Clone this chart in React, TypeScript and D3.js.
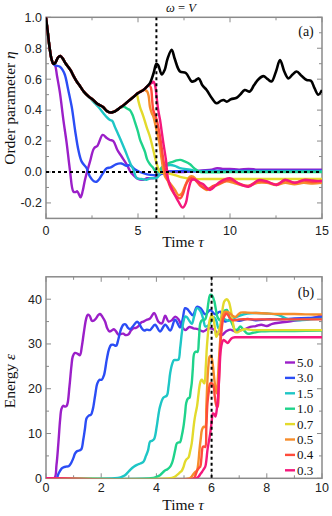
import { useEffect, useRef } from 'react'
import * as d3 from 'd3'

type Pt = [number, number]

const labels = ['5.0', '3.0', '1.5', '1.0', '0.7', '0.5', '0.4', '0.3']
const colors = ['#9b1fc8', '#2b4df5', '#1ec6c6', '#1fd38b', '#e3da2c', '#f68d2b', '#ff4b3b', '#f4187c']

// black curve in (a); the coloured ones ride on it until they peel off
const etaRef: Pt[] = [
  [0, 1.0], [0.1, 0.9], [0.2, 0.8], [0.3, 0.73], [0.4, 0.7], [0.5, 0.705], [0.65, 0.74], [0.78, 0.75],
  [0.9, 0.735], [1.05, 0.705], [1.2, 0.68], [1.35, 0.655], [1.5, 0.62], [1.67, 0.585], [1.85, 0.555],
  [2.05, 0.52], [2.3, 0.49], [2.57, 0.465], [2.8, 0.44], [3.1, 0.42], [3.3, 0.395], [3.5, 0.385],
  [3.7, 0.39], [3.85, 0.4], [4.02, 0.415], [4.3, 0.44], [4.55, 0.465], [4.8, 0.49], [5.0, 0.51],
  [5.29, 0.53], [5.47, 0.55], [5.65, 0.575], [5.85, 0.64], [6.0, 0.7], [6.1, 0.69], [6.29, 0.63],
  [6.45, 0.66], [6.6, 0.73], [6.83, 0.79], [7.0, 0.73], [7.28, 0.65], [7.6, 0.64], [7.92, 0.585],
  [8.1, 0.59], [8.3, 0.605], [8.5, 0.56], [8.73, 0.53], [9.0, 0.48], [9.27, 0.444], [9.5, 0.46],
  [9.65, 0.465], [9.82, 0.455], [10.05, 0.47], [10.36, 0.48], [10.55, 0.5], [10.8, 0.53], [11.08, 0.52],
  [11.3, 0.56], [11.55, 0.6], [11.81, 0.62], [12.05, 0.6], [12.26, 0.585], [12.5, 0.65], [12.72, 0.724],
  [12.95, 0.65], [13.17, 0.605], [13.4, 0.63], [13.62, 0.65], [13.9, 0.62], [14.17, 0.595], [14.4, 0.59],
  [14.6, 0.54], [14.8, 0.5], [15, 0.53],
]
const departAt = [0.4, 0.4, 2.3, 4.02, 4.8, 5.29, 5.47, 5.47]

const eta50: Pt[] = [
  [0.49, 0.69], [0.6, 0.62], [0.76, 0.51], [0.94, 0.34], [1.12, 0.19], [1.3, 0.013], [1.49, -0.127],
  [1.6, -0.13], [1.7, -0.125], [1.88, -0.164], [2.0, -0.12], [2.12, -0.05], [2.39, 0.067], [2.61, 0.153],
  [2.8, 0.17], [3.08, 0.24], [3.3, 0.22], [3.48, 0.207], [3.66, 0.2], [3.88, 0.142], [4.11, 0.1],
  [4.38, 0.05], [4.6, 0.0], [4.75, -0.02], [5.0, -0.045], [5.29, -0.05], [5.5, -0.04], [5.83, -0.04],
  [6.0, -0.03], [6.3, -0.01], [6.6, 0.005], [7.0, 0.0], [7.5, 0.0], [8.0, 0.005], [8.5, 0.01], [9.0, 0.015],
  [9.3, 0.025], [9.6, 0.02], [10, 0.02], [10.5, 0.015], [11, 0.02], [11.5, 0.015], [12, 0.015],
  [13, 0.015], [14, 0.015], [15, 0.015],
]
const eta30: Pt[] = [
  [0.49, 0.69], [0.76, 0.68], [0.9, 0.66], [1.03, 0.627], [1.21, 0.53], [1.4, 0.42], [1.58, 0.27],
  [1.76, 0.142], [1.94, 0.067], [2.21, 0.024], [2.39, -0.03], [2.6, -0.06], [2.75, -0.063], [2.9, -0.045],
  [3.03, -0.02], [3.3, 0.024], [3.52, 0.03], [3.8, 0.05], [4.1, 0.055], [4.38, 0.04], [4.56, 0.045],
  [4.8, 0.02], [5.1, 0.0], [5.5, -0.015], [5.83, -0.02], [6.2, -0.015], [6.6, 0.0], [7, 0.005], [8, 0.005],
  [9, 0.008], [10, 0.008], [12, 0.008], [15, 0.008],
]
const eta15: Pt[] = [
  [2.57, 0.455], [2.85, 0.42], [3.12, 0.38], [3.3, 0.355], [3.48, 0.336], [3.6, 0.33], [3.75, 0.29],
  [3.9, 0.25], [4.02, 0.218], [4.29, 0.142], [4.47, 0.088], [4.6, 0.05], [4.75, 0.015], [4.93, -0.04],
  [5.2, -0.045], [5.47, -0.05], [5.7, -0.04], [6.0, -0.04], [6.2, -0.01], [6.38, 0.035], [6.74, 0.045],
  [7.0, 0.04], [7.28, 0.025], [7.83, 0.015], [8.3, 0.005], [9, 0.003], [10, 0.003], [15, 0.003],
]
const eta10: Pt[] = [
  [4.15, 0.42], [4.29, 0.42], [4.4, 0.41], [4.56, 0.4], [4.7, 0.37], [4.84, 0.32], [5.0, 0.26],
  [5.11, 0.21], [5.28, 0.16], [5.38, 0.13], [5.5, 0.08], [5.65, 0.05], [5.8, 0.03], [5.95, 0.005],
  [6.1, 0.0], [6.29, 0.03], [6.56, 0.05], [6.74, 0.06], [6.92, 0.067], [7.1, 0.075], [7.3, 0.078],
  [7.5, 0.07], [7.83, 0.05], [8.0, 0.03], [8.19, 0.013], [8.4, 0.0], [9, -0.002], [10, 0.0], [15, 0.0],
]
const eta07: Pt[] = [
  [4.93, 0.5], [5.02, 0.46], [5.11, 0.42], [5.29, 0.36], [5.47, 0.29], [5.65, 0.228], [5.83, 0.142],
  [6.01, 0.056], [6.2, 0.0], [6.47, -0.005], [6.7, -0.01], [7.0, -0.02], [7.4, -0.035], [8, -0.045],
  [9, -0.045], [15, -0.045],
]
const eta05: Pt[] = [
  [5.38, 0.53], [5.5, 0.52], [5.58, 0.49], [5.65, 0.42], [5.75, 0.38], [5.83, 0.36], [6.01, 0.27],
  [6.16, 0.19], [6.29, 0.078], [6.47, -0.03], [6.74, -0.073], [7.01, -0.116], [7.2, -0.15], [7.37, -0.14],
  [7.55, -0.09], [7.83, -0.03], [8.0, -0.03], [8.3, -0.07], [8.74, -0.116], [9.0, -0.1], [9.4, -0.08],
  [9.8, -0.06], [10.2, -0.07], [10.6, -0.085], [11.0, -0.09], [11.5, -0.07], [12.0, -0.07], [12.5, -0.085],
  [13.0, -0.07], [13.5, -0.08], [14.0, -0.07], [14.5, -0.075], [15, -0.07],
]
const eta04: Pt[] = [
  [5.62, 0.56], [5.7, 0.545], [5.78, 0.45], [5.83, 0.4], [6.01, 0.34], [6.2, 0.228], [6.38, 0.078],
  [6.56, -0.03], [6.83, -0.116], [7.1, -0.16], [7.3, -0.17], [7.45, -0.14], [7.65, -0.07], [7.9, -0.04],
  [8.1, -0.05], [8.4, -0.09], [8.8, -0.11], [9.1, -0.09], [9.5, -0.07], [10.0, -0.05], [10.5, -0.075],
  [11, -0.09], [11.5, -0.06], [12, -0.065], [12.5, -0.08], [13, -0.055], [13.5, -0.07], [14, -0.055],
  [14.5, -0.065], [15, -0.055],
]
const eta03: Pt[] = [
  [5.6, 0.565], [5.75, 0.575], [5.85, 0.584], [5.93, 0.56], [6.01, 0.487], [6.1, 0.4], [6.2, 0.336],
  [6.29, 0.26], [6.38, 0.186], [6.52, 0.078], [6.65, -0.052], [6.92, -0.127], [7.19, -0.19], [7.43, -0.23],
  [7.6, -0.2], [7.74, -0.116], [7.92, -0.052], [8.1, -0.05], [8.37, -0.07], [8.55, -0.08], [8.91, -0.116],
  [9.2, -0.09], [9.46, -0.063], [10, -0.04], [10.45, -0.073], [11, -0.095], [11.3, -0.075], [11.54, -0.052],
  [11.99, -0.06], [12.54, -0.084], [12.99, -0.05], [13.53, -0.07], [14.08, -0.05], [14.5, -0.055], [15, -0.06],
]

const energy50: Pt[] = [
  [0, 0], [0.3, 0], [0.38, 3], [0.45, 8], [0.51, 13], [0.56, 15.5], [0.62, 16.2], [0.7, 16], [0.76, 16.3],
  [0.85, 20.5], [0.92, 25], [0.97, 27.2], [1.05, 28], [1.15, 27.8], [1.23, 27.5], [1.3, 29.5], [1.37, 32.5],
  [1.45, 35.5], [1.51, 36.5], [1.58, 36.3], [1.66, 35.2], [1.73, 35.2], [1.81, 35.7], [1.9, 36.5],
  [1.96, 36.7], [2.05, 36], [2.14, 35], [2.22, 33.5], [2.3, 32.8], [2.38, 33], [2.46, 33.3], [2.55, 32.7],
  [2.62, 32.1], [2.7, 32.2], [2.8, 32.3], [2.88, 32], [2.98, 32.1], [3.08, 33], [3.17, 33.5], [3.26, 33.6],
  [3.35, 34], [3.45, 34.8], [3.53, 35], [3.62, 35.3], [3.77, 35.7], [3.92, 36.9], [4.07, 35], [4.2, 34.6],
  [4.32, 36.3], [4.44, 35], [4.56, 35.3], [4.68, 36.1], [4.8, 35.5], [4.92, 34], [5.04, 33.1], [5.2, 33.8],
  [5.34, 33.5], [5.5, 33.3], [5.7, 32.8], [5.9, 33.5], [6.07, 33.3], [6.2, 32.5], [6.37, 32], [6.52, 32.8],
  [6.67, 33.2], [6.85, 32.8], [7.0, 33], [7.2, 33.3], [7.4, 33.8], [7.6, 34], [7.8, 34.3], [8.0, 34],
  [8.2, 34.5], [8.5, 34.8], [8.8, 35], [9.1, 35.3], [9.4, 35.5], [9.7, 35.8], [10, 36.5],
]
const energy30: Pt[] = [
  [0, 0], [0.38, 0], [0.45, 1], [0.57, 2.2], [0.65, 2.5], [0.73, 2.6], [0.82, 2.7], [0.9, 3.3], [0.99, 4.5],
  [1.05, 5.5], [1.11, 6], [1.2, 6.2], [1.28, 6.5], [1.35, 8.6], [1.41, 11], [1.47, 13.4], [1.55, 14],
  [1.63, 14.2], [1.7, 15.5], [1.78, 18.5], [1.86, 21.2], [1.94, 22], [2.02, 22], [2.1, 23], [2.2, 26.5],
  [2.28, 28.8], [2.36, 29.8], [2.45, 29.8], [2.54, 29.6], [2.62, 31], [2.7, 33], [2.8, 34.3], [2.88, 34.4],
  [2.97, 33.6], [3.05, 33.3], [3.13, 33.8], [3.22, 34.5], [3.3, 35], [3.38, 34.5], [3.47, 33.5],
  [3.56, 33], [3.65, 33.2], [3.77, 33.1], [3.95, 34.3], [4.13, 32.8], [4.32, 34.3], [4.5, 33], [4.68, 35.4],
  [4.86, 33.7], [4.95, 35.5], [5.04, 38], [5.12, 37.8], [5.2, 37.2], [5.32, 36.4], [5.47, 38.3], [5.6, 38],
  [5.77, 36.6], [5.95, 37.6], [6.13, 36.6], [6.31, 37.2], [6.49, 35], [6.74, 35.6], [7.0, 35.2], [7.3, 35.6],
  [7.6, 35.3], [8.0, 35.5], [8.5, 35.5], [9, 35.7], [9.5, 35.8], [10, 36],
]
const energy15: Pt[] = [
  [0, 0], [2.5, 0], [2.7, 0.2], [2.85, 0.6], [2.95, 1.2], [3.05, 1.9], [3.18, 2.6], [3.3, 3], [3.42, 3.3],
  [3.53, 3.7], [3.62, 5], [3.7, 6.3], [3.77, 8.2], [3.85, 8.4], [3.92, 8.8], [4.01, 11.5], [4.07, 14],
  [4.13, 16], [4.25, 18], [4.38, 18.5], [4.44, 20.5], [4.5, 23.5], [4.57, 25.5], [4.64, 26.4], [4.72, 26.4],
  [4.8, 26.5], [4.86, 29], [4.92, 32.4], [4.98, 35], [5.04, 36.1], [5.1, 36], [5.16, 35.5], [5.28, 34.5],
  [5.37, 36.2], [5.47, 38], [5.6, 37.3], [5.7, 35.5], [5.77, 33.9], [5.85, 34], [5.93, 34.5], [6.08, 36],
  [6.17, 35.2], [6.25, 33.5], [6.35, 34.5], [6.43, 35.6], [6.61, 35.2], [6.8, 35.8], [7.0, 36.3],
  [7.3, 36.8], [7.6, 36.9], [8.0, 36.8], [8.4, 36.5], [8.8, 35.5], [9.2, 35.3], [9.6, 35.5], [10, 35.6],
]
const energy10: Pt[] = [
  [0, 0], [3.8, 0], [4.0, 0.3], [4.13, 0.7], [4.3, 1.7], [4.4, 2], [4.5, 2.6], [4.57, 3.5], [4.62, 4.6],
  [4.68, 6.3], [4.74, 7.8], [4.8, 8], [4.86, 8.1], [4.92, 9.5], [4.98, 11.5], [5.04, 14.5], [5.08, 16.8],
  [5.14, 17.8], [5.2, 18], [5.24, 19.5], [5.28, 21.2], [5.32, 24.5], [5.37, 27.9], [5.43, 28.3],
  [5.49, 28.2], [5.54, 31], [5.59, 34.6], [5.65, 35.3], [5.71, 35.3], [5.77, 35.5], [5.83, 36.8],
  [5.89, 39.5], [5.95, 41], [6.02, 40.8], [6.1, 39.5], [6.16, 37.5], [6.21, 36.1], [6.3, 35.3], [6.37, 36.3],
  [6.43, 37.2], [6.55, 37.6], [6.67, 35.6], [6.78, 34], [6.86, 33.1], [6.95, 33.3], [7.04, 33.9],
  [7.15, 33.2], [7.3, 32.3], [7.5, 32.5], [7.8, 32.8], [8.2, 32.9], [9, 32.9], [10, 33],
]
const energy07: Pt[] = [
  [0, 0], [4.5, 0], [4.65, 0.3], [4.74, 0.7], [4.85, 1.3], [4.92, 1.7], [4.98, 2.5], [5.04, 3.7], [5.1, 4.3],
  [5.16, 4.6], [5.22, 6], [5.28, 7.8], [5.33, 10.5], [5.37, 12.6], [5.42, 14.5], [5.47, 16], [5.52, 18.5],
  [5.56, 20.5], [5.61, 21.8], [5.65, 22], [5.7, 21.5], [5.74, 21.2], [5.79, 25], [5.83, 29.4], [5.88, 33],
  [5.93, 35.3], [6.0, 36.3], [6.05, 36], [6.11, 34], [6.17, 31.6], [6.24, 32.5], [6.31, 34], [6.38, 37],
  [6.46, 39.5], [6.55, 40], [6.62, 39.5], [6.7, 37.5], [6.78, 34.5], [6.86, 32.7], [6.95, 32.6], [7.05, 33],
  [7.2, 33.3], [7.5, 33.1], [8, 33.1], [9, 33.1], [10, 33.1],
]
const energy05: Pt[] = [
  [0, 0], [5.2, 0], [5.28, 0.4], [5.35, 1], [5.42, 1.5], [5.47, 1.7], [5.52, 3.5], [5.56, 6.3], [5.61, 9],
  [5.65, 10.8], [5.71, 11.5], [5.77, 11.5], [5.81, 16], [5.85, 22], [5.89, 25.5], [5.93, 27.2], [5.98, 27.3],
  [6.03, 26], [6.1, 22], [6.15, 19.8], [6.19, 19], [6.23, 22.5], [6.28, 28], [6.33, 32.5], [6.37, 35.4],
  [6.43, 36.8], [6.5, 37.2], [6.6, 37.1], [6.67, 36.8], [6.76, 36.3], [6.86, 36], [6.95, 36.5], [7.05, 37],
  [7.3, 37], [7.6, 36.9], [8, 36.8], [8.5, 36.7], [9, 36.7], [9.5, 36.6], [10, 36.6],
]
const energy04: Pt[] = [
  [0, 0], [5.35, 0], [5.42, 0.8], [5.49, 1.9], [5.55, 2.4], [5.59, 2.6], [5.63, 4.5], [5.68, 7], [5.72, 7.1],
  [5.77, 7], [5.81, 11.5], [5.85, 16.8], [5.9, 19.5], [5.95, 21.2], [6.01, 21.2], [6.07, 20.5], [6.12, 18],
  [6.15, 16.8], [6.19, 16], [6.22, 16], [6.26, 21], [6.31, 28.7], [6.36, 33], [6.41, 35.3], [6.47, 36.3],
  [6.53, 36.8], [6.6, 36.4], [6.67, 35.7], [6.76, 35.3], [6.86, 35.3], [7.0, 35.5], [7.5, 35.5], [8, 35.5],
  [9, 35.5], [10, 35.5],
]
const energy03: Pt[] = [
  [0, 0], [5.45, 0], [5.53, 0.4], [5.6, 1], [5.65, 1.4], [5.71, 2], [5.77, 2.6], [5.81, 4], [5.85, 6.3],
  [5.9, 8.2], [5.95, 10], [6.0, 12.5], [6.05, 14.5], [6.1, 14.3], [6.14, 13.8], [6.19, 15.5], [6.25, 19.7],
  [6.29, 24.5], [6.33, 28.6], [6.38, 30.3], [6.43, 30.9], [6.5, 30.6], [6.58, 30.2], [6.65, 30.7],
  [6.73, 31.3], [6.85, 31.5], [7.0, 31.5], [8, 31.5], [10, 31.5],
]

const etaTails = [eta50, eta30, eta15, eta10, eta07, eta05, eta04, eta03]
const energies = [energy50, energy30, energy15, energy10, energy07, energy05, energy04, energy03]

const etaMajor = [-0.2, 0, 0.2, 0.4, 0.6, 0.8, 1.0]
const etaMinor = [-0.3, -0.1, 0.1, 0.3, 0.5, 0.7, 0.9]
const timeMajorA = [0, 5, 10, 15]
const timeMinorA = [2.5, 7.5, 12.5]
const energyMajor = [0, 10, 20, 30, 40]
const energyMinor = [5, 15, 25, 35]
const timeMajorB = [0, 2, 4, 6, 8, 10]
const timeMinorB = [1, 3, 5, 7, 9]

const SANS = 'Liberation Sans, Arial, sans-serif'
const SERIF = 'Liberation Serif, Times New Roman, serif'
const FRAME = '#8a8a8a'

export default function App() {
  const svgRef = useRef<SVGSVGElement>(null)

  useEffect(() => {
    if (!svgRef.current) return
    const svg = d3.select(svgRef.current)
    svg.selectAll('*').remove()

    const xA = d3.scaleLinear().domain([0, 15]).range([46, 322])
    const yA = d3.scaleLinear().domain([-0.3, 1]).range([218.4, 17.3])
    const xB = d3.scaleLinear().domain([0, 10]).range([46, 322])
    const yB = d3.scaleLinear().domain([0, 45]).range([478.3, 276.8])

    const defs = svg.append('defs')
    const clip = (id: string, x: any, y: any) => {
      defs.append('clipPath').attr('id', id).append('rect')
        .attr('x', x.range()[0]).attr('y', y.range()[1])
        .attr('width', x.range()[1] - x.range()[0]).attr('height', y.range()[0] - y.range()[1])
    }
    clip('clipA', xA, yA)
    clip('clipB', xB, yB)

    // frame + inward ticks on all four sides
    function frame(x: any, y: any, xMaj: number[], xMin: number[], yMaj: number[], yMin: number[], fmtY: (v: number) => string, xLabY: number) {
      const [x0, x1] = x.range()
      const [y0, y1] = y.range()
      const g = svg.append('g')
      g.append('rect').attr('x', x0).attr('y', y1).attr('width', x1 - x0).attr('height', y0 - y1)
        .attr('fill', 'none').attr('stroke', FRAME).attr('stroke-width', 1.5)
      const tk = (vals: number[], len: number) => {
        vals.forEach(v => {
          const px = x(v)
          g.append('line').attr('x1', px).attr('x2', px).attr('y1', y0).attr('y2', y0 - len).attr('stroke', FRAME)
          g.append('line').attr('x1', px).attr('x2', px).attr('y1', y1).attr('y2', y1 + len).attr('stroke', FRAME)
        })
      }
      const tky = (vals: number[], len: number) => {
        vals.forEach(v => {
          const py = y(v)
          g.append('line').attr('y1', py).attr('y2', py).attr('x1', x0).attr('x2', x0 + len).attr('stroke', FRAME)
          g.append('line').attr('y1', py).attr('y2', py).attr('x1', x1).attr('x2', x1 - len).attr('stroke', FRAME)
        })
      }
      tk(xMaj, 5); tk(xMin, 3); tky(yMaj, 5); tky(yMin, 3)
      g.selectAll('text.xt').data(xMaj).join('text')
        .attr('x', d => x(d)).attr('y', xLabY).attr('text-anchor', 'middle')
        .style('font-family', SANS).style('font-size', '12.5px').style('fill', '#222')
        .text(d => String(d))
      g.selectAll('text.yt').data(yMaj).join('text')
        .attr('x', x0 - 4).attr('y', d => y(d)).attr('dy', '0.35em').attr('text-anchor', 'end')
        .style('font-family', SANS).style('font-size', '12.5px').style('fill', '#222')
        .text(d => fmtY(d))
    }

    const line = (x: any, y: any) => d3.line<Pt>().x(d => x(d[0])).y(d => y(d[1])).curve(d3.curveCatmullRom.alpha(0.5))

    // ---- panel (a)
    frame(xA, yA, timeMajorA, timeMinorA, etaMajor, etaMinor, v => v.toFixed(1), 235)
    const gA = svg.append('g').attr('clip-path', 'url(#clipA)')
    const lineA = line(xA, yA)
    etaTails.forEach((tail, i) => {
      const pts = etaRef.filter(p => p[0] <= departAt[i]).concat(tail)
      gA.append('path').attr('d', lineA(pts)).attr('fill', 'none')
        .attr('stroke', colors[i]).attr('stroke-width', 2.4).attr('stroke-linejoin', 'round')
    })
    gA.append('path').attr('d', lineA(etaRef)).attr('fill', 'none')
      .attr('stroke', '#000').attr('stroke-width', 2.6).attr('stroke-linejoin', 'round')
    gA.append('line').attr('x1', xA(0)).attr('x2', xA(15)).attr('y1', yA(0)).attr('y2', yA(0))
      .attr('stroke', '#000').attr('stroke-width', 2).attr('stroke-dasharray', '3,3')
    gA.append('line').attr('x1', xA(6)).attr('x2', xA(6)).attr('y1', yA(1)).attr('y2', yA(-0.3))
      .attr('stroke', '#000').attr('stroke-width', 2).attr('stroke-dasharray', '3,3')

    // ---- panel (b)
    frame(xB, yB, timeMajorB, timeMinorB, energyMajor, energyMinor, v => String(v), 491.5)
    const gB = svg.append('g').attr('clip-path', 'url(#clipB)')
    const lineB = line(xB, yB)
    energies.forEach((pts, i) => {
      gB.append('path').attr('d', lineB(pts)).attr('fill', 'none')
        .attr('stroke', colors[i]).attr('stroke-width', 2.4).attr('stroke-linejoin', 'round')
    })
    gB.append('line').attr('x1', xB(6)).attr('x2', xB(6)).attr('y1', yB(45)).attr('y2', yB(0))
      .attr('stroke', '#000').attr('stroke-width', 2).attr('stroke-dasharray', '3,3')

    // legend
    const leg = svg.append('g')
    labels.forEach((lab, i) => {
      const ly = 362.5 + i * 15.4
      leg.append('line').attr('x1', 285).attr('x2', 295).attr('y1', ly).attr('y2', ly)
        .attr('stroke', colors[i]).attr('stroke-width', 2.4)
      leg.append('text').attr('x', 297).attr('y', ly).attr('dy', '0.35em')
        .style('font-family', SERIF).style('font-size', '13px').style('fill', '#111').text(lab)
    })

    // labels
    const txt = (x: number, y: number, parts: [string, boolean][], size: number, anchor = 'middle', rot = 0) => {
      const t = svg.append('text').attr('text-anchor', anchor)
        .attr('transform', `translate(${x},${y}) rotate(${rot})`)
        .style('font-family', SERIF).style('font-size', size + 'px').style('fill', '#111')
      parts.forEach(([s, it]) => t.append('tspan').style('font-style', it ? 'italic' : 'normal').text(s))
    }
    txt(183, 247, [['Time ', false], ['τ', true]], 15.5)
    txt(183, 510, [['Time ', false], ['τ', true]], 15.5)
    txt(14.5, 108, [['Order parameter ', false], ['η', true]], 15.5, 'middle', -90)
    txt(14.5, 381, [['Energy ', false], ['ε', true]], 15.5, 'middle', -90)
    txt(166, 12, [['ω', true], [' = ', false], ['V', true]], 12.5, 'start')
    txt(306, 36, [['(a)', false]], 14)
    txt(306, 297, [['(b)', false]], 14)
  }, [])

  return (
    <svg ref={svgRef} width={332} height={516} style={{ position: 'absolute', left: 0, top: 0, background: '#fff' }} />
  )
}
